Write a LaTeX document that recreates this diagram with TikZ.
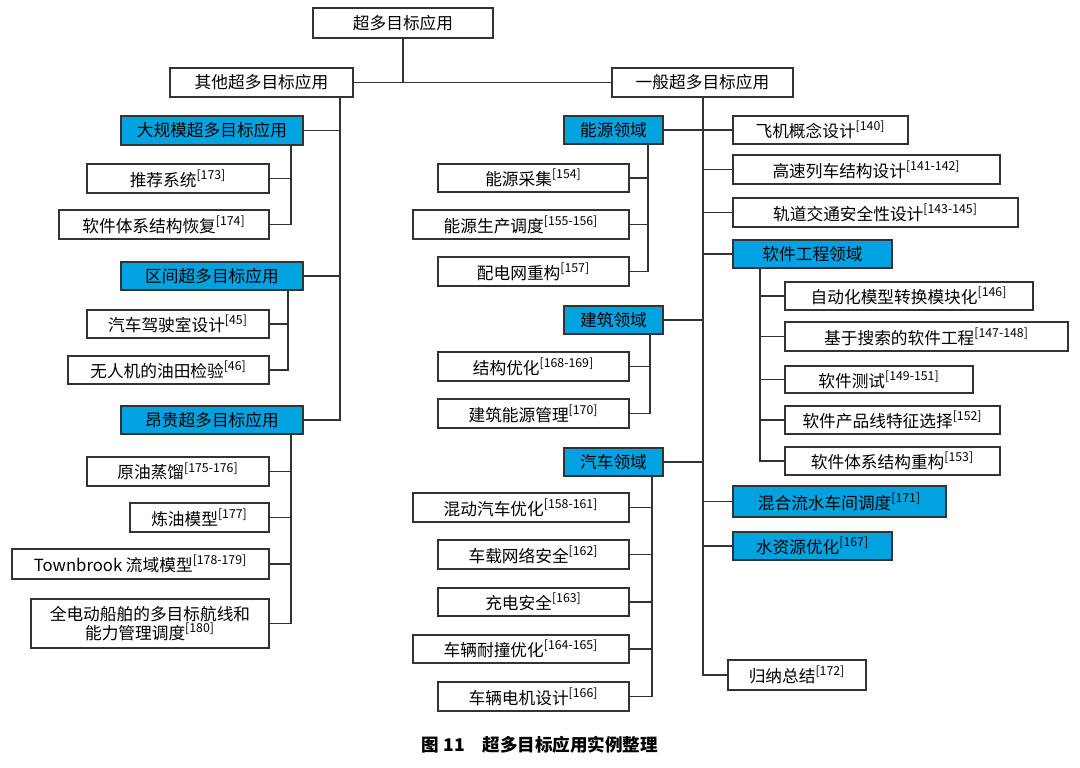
\documentclass[tikz,border=0pt]{standalone}
\usepackage{fontspec}
\newfontfamily\cjk{Noto Sans CJK SC}
\usetikzlibrary{positioning}
\definecolor{boxblue}{HTML}{00A3E0}
\definecolor{edge}{HTML}{333333}
% box from pixel corners
\newcommand{\bx}[7][box]{%
  \node[#1, minimum width={(#5-#3)*0.02cm}, minimum height={(#6-#4)*0.02cm}]
    (#2) at ({(#3+#5)/2},{(#4+#6)/2}) {#7};}
\newcommand{\rf}[1]{\textsuperscript{\scriptsize[#1]}}
\begin{document}
\begin{tikzpicture}[x=0.02cm, y=-0.02cm,
    box/.style={draw=edge, line width=0.9pt, fill=white, inner sep=0pt,
      font=\cjk\fontsize{9.5}{11}\selectfont, align=center},
    hbox/.style={box, fill=boxblue},
    link/.style={draw=edge, line width=0.8pt}]
    \useasboundingbox (0,0) rectangle (1080,768);

    % top levels
    \bx{root}{313}{8}{493}{38}{超多目标应用}
    \bx{other}{170}{68}{353}{97}{其他超多目标应用}
    \bx{general}{612}{68}{793}{97}{一般超多目标应用}
    \draw[link] (root.south) -- ++(0,44);
    \draw[link] (other.east) -- (general.west);

    % other applications
    \bx[hbox]{large}{121}{116}{303}{145}{大规模超多目标应用}
    \bx[hbox]{interval}{121}{262}{303}{290}{区间超多目标应用}
    \bx[hbox]{pricey}{121}{406}{303}{434}{昂贵超多目标应用}
    \coordinate (lt) at (340,97);
    \draw[link] (lt) |- (pricey.east);
    \draw[link] (lt |- large.east) -- (large.east);
    \draw[link] (lt |- interval.east) -- (interval.east);

    \bx{recom}{87}{164}{269}{193}{推荐系统\rf{173}}
    \bx{swarch}{59}{210}{269}{239}{软件体系结构恢复\rf{174}}
    \coordinate (lt1) at (291,145);
    \draw[link] (lt1) |- (swarch.east);
    \draw[link] (lt1 |- recom.east) -- (recom.east);

    \bx{cab}{87}{310}{269}{338}{汽车驾驶室设计\rf{45}}
    \bx{drone}{68}{356}{269}{384}{无人机的油田检验\rf{46}}
    \coordinate (lt2) at (288,290);
    \draw[link] (lt2) |- (drone.east);
    \draw[link] (lt2 |- cab.east) -- (cab.east);

    \bx{crude}{87}{457}{269}{486}{原油蒸馏\rf{175-176}}
    \bx{refine}{130}{503}{269}{532}{炼油模型\rf{177}}
    \bx{town}{12}{549}{269}{579}{Townbrook 流域模型\rf{178-179}}
    \bx{ship}{31}{599}{269}{648}{全电动船舶的多目标航线和\\能力管理调度\rf{180}}
    \coordinate (lt3) at (291,434);
    \draw[link] (lt3) |- (ship.east);
    \foreach \n in {crude, refine, town}
        \draw[link] (lt3 |- \n.east) -- (\n.east);

    % general applications
    \coordinate (rt) at (703,97);
    \bx{plane}{733}{116}{908}{144}{飞机概念设计\rf{140}}
    \bx{train}{733}{155}{1000}{184}{高速列车结构设计\rf{141-142}}
    \bx{rail}{733}{198}{1018}{227}{轨道交通安全性设计\rf{143-145}}
    \bx[hbox]{soft}{733}{240}{892}{268}{软件工程领域}
    \bx[hbox]{mixed}{733}{486}{946}{517}{混合流水车间调度\rf{171}}
    \bx[hbox]{water}{733}{532}{892}{560}{水资源优化\rf{167}}
    \bx{summary}{728}{660}{866}{690}{归纳总结\rf{172}}
    \draw[link] (rt) |- (summary.west);
    \foreach \n in {train, rail, soft, mixed, water}
        \draw[link] (rt |- \n.west) -- (\n.west);

    \bx[hbox]{energy}{564}{116}{663}{144}{能源领域}
    \bx[hbox]{build}{564}{306}{663}{334}{建筑领域}
    \bx[hbox]{car}{564}{448}{663}{476}{汽车领域}
    \draw[link] (energy.east) -- (plane.west);
    \draw[link] (build.east) -- (rt |- build.east);
    \draw[link] (car.east) -- (rt |- car.east);

    % software engineering
    \bx{auto}{785}{282}{1033}{310}{自动化模型转换模块化\rf{146}}
    \bx{search}{785}{322}{1068}{351}{基于搜索的软件工程\rf{147-148}}
    \bx{test}{785}{366}{973}{393}{软件测试\rf{149-151}}
    \bx{line}{785}{406}{1000}{434}{软件产品线特征选择\rf{152}}
    \bx{rearch}{785}{447}{1000}{475}{软件体系结构重构\rf{153}}
    \coordinate (st) at (760,268);
    \draw[link] (st) |- (rearch.west);
    \foreach \n in {auto, search, test, line}
        \draw[link] (st |- \n.west) -- (\n.west);

    % energy
    \bx{harvest}{438}{164}{629}{192}{能源采集\rf{154}}
    \bx{sched}{413}{210}{629}{239}{能源生产调度\rf{155-156}}
    \bx{grid}{438}{257}{629}{286}{配电网重构\rf{157}}
    \coordinate (et) at (648,144);
    \draw[link] (et) |- (grid.east);
    \foreach \n in {harvest, sched}
        \draw[link] (et |- \n.east) -- (\n.east);

    % building
    \bx{struct}{438}{352}{629}{381}{结构优化\rf{168-169}}
    \bx{benergy}{438}{399}{629}{428}{建筑能源管理\rf{170}}
    \coordinate (bt) at (650,334);
    \draw[link] (bt) |- (benergy.east);
    \draw[link] (bt |- struct.east) -- (struct.east);

    % car
    \bx{hybrid}{413}{493}{629}{522}{混动汽车优化\rf{158-161}}
    \bx{net}{438}{540}{629}{569}{车载网络安全\rf{162}}
    \bx{charge}{438}{588}{629}{616}{充电安全\rf{163}}
    \bx{crash}{413}{635}{629}{663}{车辆耐撞优化\rf{164-165}}
    \bx{motor}{438}{682}{629}{711}{车辆电机设计\rf{166}}
    \coordinate (ct) at (652,476);
    \draw[link] (ct) |- (motor.east);
    \foreach \n in {hybrid, net, charge, crash}
        \draw[link] (ct |- \n.east) -- (\n.east);

    \node[font=\cjk\bfseries\fontsize{10}{12}\selectfont] (caption) at (540,745)
        {图 11\quad 超多目标应用实例整理};
\end{tikzpicture}
\end{document}
